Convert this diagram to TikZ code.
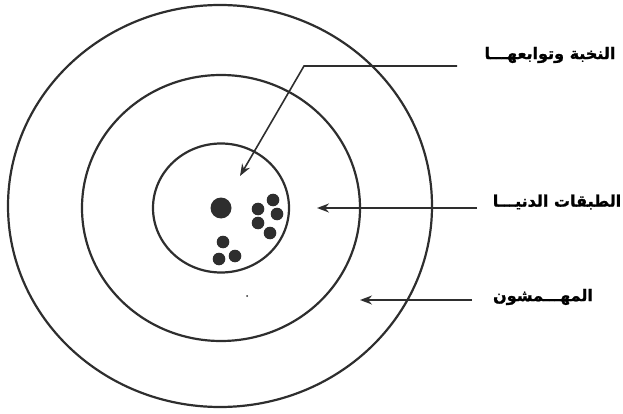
\documentclass[tikz,border=0pt]{standalone}
\usepackage{fontspec}
\usetikzlibrary{arrows.meta}
\TeXXeTstate=1
\newfontfamily\arabicfont[Script=Arabic,FakeBold=1.2]{DejaVu Sans Bold}
\definecolor{ink}{HTML}{2E2E2E}
\tikzset{
  ring/.style={draw=ink, line width=2.2pt},
  pointer/.style={draw=ink, line width=1.6pt, -{Stealth[length=12pt,width=9pt]}},
  lbl/.style={font=\arabicfont\fontsize{16}{18}\selectfont, text=black, inner sep=0pt},
  member/.style={fill=ink, draw=none},
}
\begin{document}
\begin{tikzpicture}[x=1pt,y=-1pt]
\useasboundingbox (0,0) rectangle (623,414);
% rings
\draw[ring] (220,206) ellipse [x radius=212, y radius=201];
\draw[ring] (221,208) ellipse [x radius=139, y radius=133];
\draw[ring] (221,208) ellipse [x radius=68, y radius=64.5];
% members
\fill[member] (221,208) circle (10.5);
\foreach \p in {(273,200),(258,209),(277,214),(258,223),(270,233),(223,242),(219,259),(235,256)}
  \fill[member] \p circle (6.3);
\fill[member] (247,296) circle (1);
% labels
\node[lbl] (elite) at (550,55) {\beginR النخبة وتوابعهـــا\endR};
\node[lbl] (lower) at (557,202) {\beginR الطبقات الدنيـــا\endR};
\node[lbl] (marg) at (543,297) {\beginR المهـــمشون\endR};
% pointer ends
\coordinate (e0) at (457,66);
\coordinate (e1) at (304,66);
\coordinate (e2) at (240,176);
\coordinate (l0) at (477,208);
\coordinate (l1) at (317,208);
\coordinate (m0) at (472,300);
\coordinate (m1) at (360,300);
\draw[pointer] (e0) -- (e1) -- (e2);
\draw[pointer] (l0) -- (l1);
\draw[pointer] (m0) -- (m1);
\end{tikzpicture}
\end{document}
